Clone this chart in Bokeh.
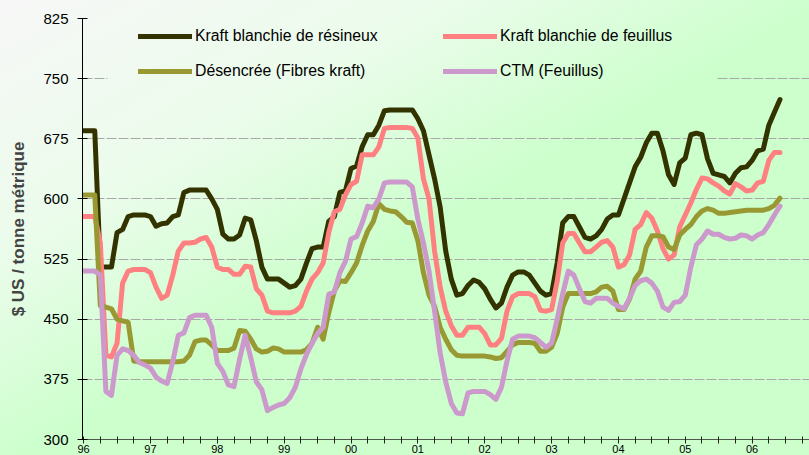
from bokeh.plotting import figure
from bokeh.models import Range1d, FixedTicker, Legend, LegendItem, Grid
from bokeh.embed import file_html
from bokeh.resources import INLINE

# ---------------- data (monthly, Jan 1996 = month 0) ----------------
months = list(range(126))
year_labels = ["96", "97", "98", "99", "00", "01", "02", "03", "04", "05", "06"]
y_ticks = [300, 375, 450, 525, 600, 675, 750, 825]

series_names = ["Kraft blanchie de résineux", "Kraft blanchie de feuillus",
                "Désencrée (Fibres kraft)", "CTM (Feuillus)"]

nbsk = [685, 685, 685, 515, 515, 515, 558, 562, 578, 580,
        580, 580, 578, 566, 569, 570, 578, 580, 608, 611,
        611, 611, 611, 600, 587, 556, 550, 550, 555, 576,
        574, 548, 515, 500, 500, 500, 495, 490, 492, 500,
        520, 538, 540, 540, 572, 578, 608, 610, 638, 641,
        665, 680, 680, 692, 710, 711, 711, 711, 711, 711,
        700, 685, 655, 625, 590, 535, 500, 480, 482, 492,
        499, 496, 488, 475, 464, 470, 490, 505, 509, 509,
        505, 495, 485, 480, 482, 520, 570, 578, 578, 565,
        552, 550, 554, 562, 575, 580, 580, 600, 620, 640,
        652, 670, 682, 682, 660, 630, 618, 645, 651, 680,
        682, 680, 650, 632, 630, 628, 620, 632, 639, 640,
        648, 660, 662, 692, 708, 724]

nbhk = [578, 578, 578, 545, 405, 403, 420, 495, 510, 512,
        512, 512, 508, 490, 476, 480, 505, 535, 545, 545,
        546, 550, 552, 540, 515, 512, 512, 506, 506, 516,
        515, 488, 480, 460, 458, 458, 458, 458, 460, 466,
        485, 500, 508, 520, 558, 584, 587, 605, 618, 622,
        655, 655, 655, 665, 688, 689, 689, 689, 689, 688,
        676, 625, 600, 535, 490, 460, 442, 430, 430, 440,
        440, 440, 432, 418, 418, 426, 460, 478, 482, 482,
        482, 478, 461, 460, 462, 497, 545, 557, 557, 545,
        534, 534, 540, 546, 548, 540, 515, 518, 530, 562,
        568, 583, 576, 560, 538, 525, 530, 565, 580, 595,
        612, 626, 625, 620, 616, 610, 606, 619, 615, 610,
        611, 620, 622, 648, 658, 658]

deinked = [605, 605, 605, 467, 465, 463, 450, 448, 446, 398,
           397, 397, 397, 397, 397, 397, 397, 397, 398, 405,
           422, 424, 424, 418, 411, 411, 411, 414, 436, 435,
           425, 413, 409, 410, 414, 413, 409, 409, 409, 409,
           412, 420, 440, 425, 458, 485, 498, 497, 508, 520,
           542, 560, 572, 594, 587, 585, 584, 578, 571, 570,
           548, 508, 480, 466, 440, 425, 412, 405, 404, 404,
           404, 404, 404, 403, 401, 402, 410, 418, 421, 421,
           421, 420, 410, 410, 415, 432, 465, 482, 482, 482,
           482, 482, 484, 490, 491, 485, 462, 462, 475, 500,
           510, 540, 554, 554, 553, 540, 537, 555, 562, 568,
           578, 585, 588, 586, 582, 582, 583, 584, 585, 586,
           586, 586, 586, 588, 592, 601]

ctmp = [510, 510, 510, 505, 360, 355, 405, 413, 411, 405,
        396, 393, 389, 378, 373, 370, 397, 430, 433, 452,
        455, 455, 455, 440, 395, 385, 368, 366, 400, 430,
        402, 372, 362, 336, 340, 343, 345, 352, 365, 388,
        406, 420, 432, 440, 481, 484, 508, 522, 550, 553,
        570, 591, 589, 600, 620, 621, 621, 621, 621, 615,
        575, 545, 510, 460, 408, 372, 345, 333, 332, 358,
        360, 360, 360, 356, 350, 365, 398, 425, 429, 429,
        429, 427, 421, 415, 420, 450, 482, 510, 505, 488,
        472, 470, 476, 476, 476, 470, 466, 463, 476, 492,
        498, 500, 495, 485, 465, 461, 471, 472, 480, 515,
        543, 550, 560, 556, 556, 552, 550, 551, 555, 554,
        550, 555, 558, 568, 580, 591]

colors = ["#333300", "#ff8080", "#999933", "#cc99cc"]
FONT = "Liberation Sans"

X_START, X_END = -0.2, 130.3

# ---------------- figure ----------------
p = figure(width=809, height=455, output_backend="svg", toolbar_location=None,
           x_range=Range1d(X_START, X_END), y_range=Range1d(300, 825),
           min_border_left=82, min_border_top=18, min_border_right=0, min_border_bottom=0)

try:
    from bokeh.models import GlobalInlineStyleSheet
    p.stylesheets = [GlobalInlineStyleSheet(css=(
        "html{height:100%;background:linear-gradient(to bottom right,#f7f7f7 0%,"
        "#ebfceb 28%,#ccffcc 52%,#ccffcc 100%) no-repeat;}"
        "body{background:transparent;}"))]
except Exception:
    pass

p.background_fill_color = None
p.border_fill_color = None
p.outline_line_color = None

renderers = []
for vals, col in zip([nbsk, nbhk, deinked, ctmp], colors):
    r = p.line(months, vals, line_color=col, line_width=5,
               line_join="round", line_cap="round")
    renderers.append(r)

# axes
xa = p.xaxis[0]
xticks = list(range(0, 131, 3))
xa.ticker = FixedTicker(ticks=xticks, minor_ticks=[])
xa.major_label_overrides = {
    k: (year_labels[k // 12] if (k % 12 == 0 and k // 12 < len(year_labels)) else "")
    for k in xticks}
xa.axis_line_color = "#4a5a4a"
xa.major_tick_line_color = "#222222"
xa.major_tick_in = 3
xa.major_tick_out = 4
xa.major_label_standoff = 1
xa.major_label_text_font = FONT
xa.major_label_text_font_size = "11px"
xa.major_label_text_color = "black"

ya = p.yaxis[0]
ya.ticker = FixedTicker(ticks=y_ticks, minor_ticks=[])
ya.axis_line_color = "black"
ya.major_tick_line_color = "black"
ya.major_tick_in = 5
ya.major_tick_out = 5
ya.major_label_standoff = 9
ya.major_label_text_font = FONT
ya.major_label_text_font_size = "15px"
ya.major_label_text_color = "black"
ya.axis_label = "$ US / tonne métrique"
ya.axis_label_text_font = FONT
ya.axis_label_text_font_style = "bold"
ya.axis_label_text_font_size = "17px"
ya.axis_label_standoff = 12

# grid
p.xgrid.visible = False
grid_col = "#a8a8a8"
p.ygrid.ticker = FixedTicker(ticks=[t for t in y_ticks if t != 750])
p.ygrid.grid_line_color = grid_col
p.ygrid.grid_line_dash = "10 2"
if "cross_bounds" in Grid.properties():
    for cb in [(X_START, 4.3), (113.8, X_END)]:
        g = Grid(dimension=1, ticker=FixedTicker(ticks=[750]), cross_bounds=cb,
                 grid_line_color=grid_col, grid_line_dash="10 2")
        p.add_layout(g)
else:
    g = Grid(dimension=1, ticker=FixedTicker(ticks=[750]),
             grid_line_color=grid_col, grid_line_dash="10 2")
    p.add_layout(g)

# legends (two columns)
def make_legend(idx, loc):
    leg = Legend(items=[LegendItem(label=series_names[i], renderers=[renderers[i]]) for i in idx],
                 location=loc, orientation="vertical")
    leg.background_fill_alpha = 0
    leg.border_line_alpha = 0
    leg.padding = 0
    leg.margin = 0
    leg.spacing = 15
    leg.glyph_width = 54
    leg.glyph_height = 20
    leg.label_height = 20
    leg.label_standoff = 3
    leg.label_text_font = FONT
    leg.label_text_font_size = "15.8px"
    leg.label_text_color = "black"
    return leg

p.add_layout(make_legend([0, 2], (56, 358)))
p.add_layout(make_legend([1, 3], (361, 358)))

open("out.html", "w").write(file_html(p, INLINE))
